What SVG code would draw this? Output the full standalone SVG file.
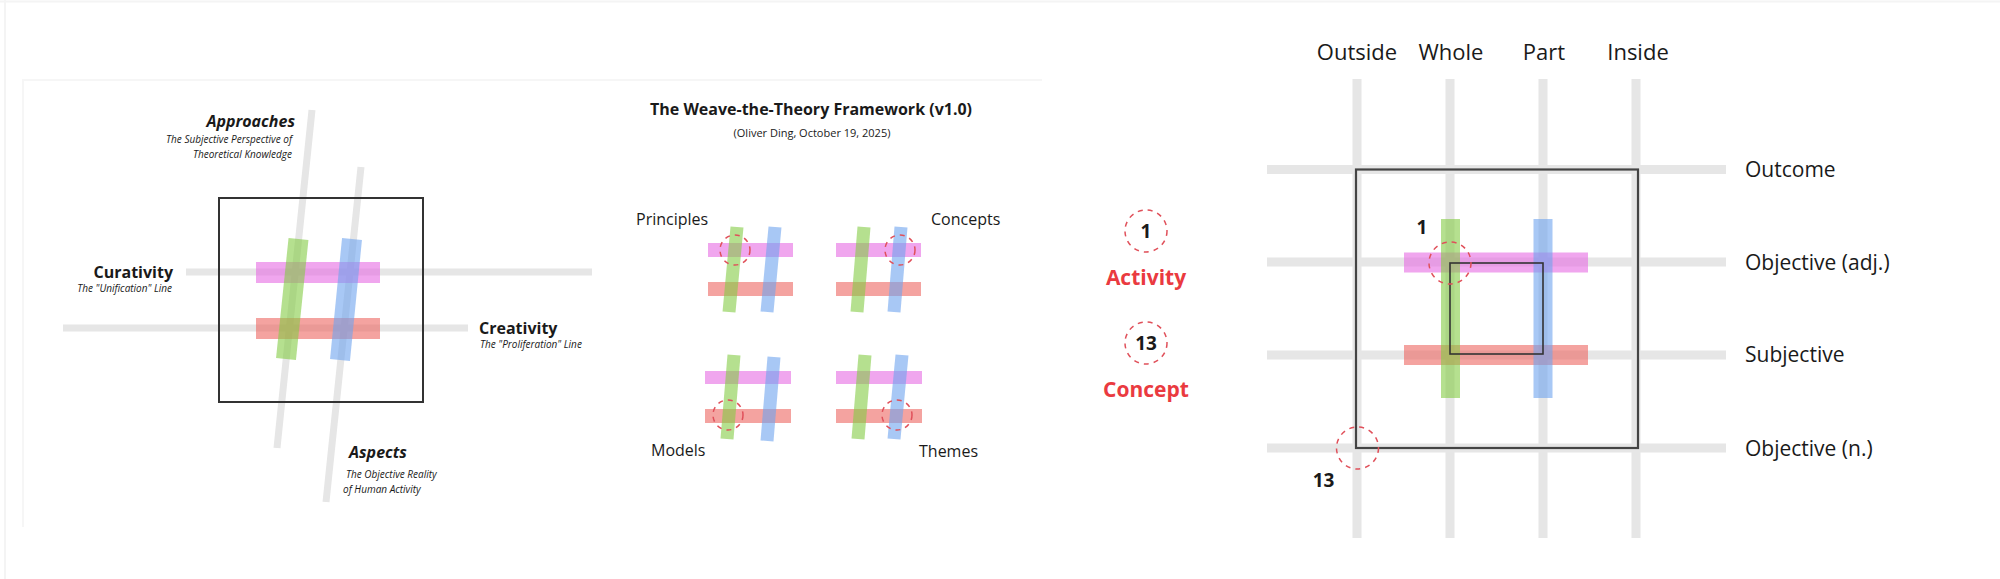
<svg xmlns="http://www.w3.org/2000/svg" width="2000" height="579" viewBox="0 0 2000 579">
<defs>
<style>
text{font-family:"Open Sans","Noto Sans","Liberation Sans",sans-serif;fill:#1a1a1a}
.gl{stroke:#e6e6e6;stroke-linecap:butt;fill:none}
.pk{fill:#e66be3;fill-opacity:0.6}
.rd{fill:#ed6661;fill-opacity:0.6}
.gn{stroke:#84cb44;stroke-opacity:0.6;fill:none}
.bl{stroke:#6ea3ee;stroke-opacity:0.6;fill:none}
.dc{fill:none;stroke:#e0505a;stroke-width:1.5;stroke-dasharray:5 5}
.bi{font-weight:700;font-style:italic}
.it{font-style:italic;font-size:10px}
.b{font-weight:700}
.red{fill:#ea3a40;font-weight:700;font-size:21px}
</style>
</defs>
<rect width="2000" height="579" fill="#ffffff"/>
<path d="M0 1.5H2000M5 0V579" stroke="#f4f4f4" stroke-width="2" fill="none"/>
<path d="M1042 80H23V527" stroke="#f6f6f6" stroke-width="2" fill="none"/>

<g id="left-framework">
  <g id="left-lines">
    <line class="gl" stroke-width="7" x1="312" y1="110" x2="277" y2="448"/>
    <line class="gl" stroke-width="7" x1="361" y1="167" x2="326" y2="502"/>
    <line class="gl" stroke-width="7" x1="186" y1="272" x2="592" y2="272"/>
    <line class="gl" stroke-width="7" x1="63" y1="328" x2="468" y2="328"/>
  </g>
  <rect id="left-square" x="219" y="198" width="204" height="204" fill="none" stroke="#333" stroke-width="2"/>
  <g id="left-hash">
    <rect class="pk" x="256" y="262" width="124" height="21"/>
    <rect class="rd" x="256" y="318" width="124" height="21"/>
    <line class="gn" stroke-width="20" x1="298.5" y1="239" x2="286" y2="359"/>
    <line class="bl" stroke-width="20" x1="352" y1="239" x2="340" y2="360"/>
  </g>
  <g id="approaches">
    <text class="bi" x="295" y="127" font-size="16" text-anchor="end">Approaches</text>
    <text class="it" x="292" y="143" text-anchor="end">The Subjective Perspective of</text>
    <text class="it" x="292" y="158" text-anchor="end">Theoretical Knowledge</text>
  </g>
  <g id="curativity">
    <text class="b" x="173" y="278" font-size="16" text-anchor="end">Curativity</text>
    <text class="it" x="172" y="292" text-anchor="end">The "Unification" Line</text>
  </g>
  <g id="creativity">
    <text class="b" x="479" y="334" font-size="16">Creativity</text>
    <text class="it" x="480" y="348">The "Proliferation" Line</text>
  </g>
  <g id="aspects">
    <text class="bi" x="349" y="458" font-size="16">Aspects</text>
    <text class="it" x="346" y="478">The Objective Reality</text>
    <text class="it" x="343" y="493">of Human Activity</text>
  </g>
</g>

<g id="title">
  <text class="b" x="811" y="115" font-size="16" text-anchor="middle">The Weave-the-Theory Framework (v1.0)</text>
  <text x="812" y="137" font-size="11" text-anchor="middle">(Oliver Ding, October 19, 2025)</text>
</g>

<g id="principles">
  <rect class="pk" x="708" y="243" width="85" height="14"/>
  <rect class="rd" x="708" y="282" width="85" height="14"/>
  <line class="gn" stroke-width="13" x1="737" y1="227" x2="729" y2="312"/>
  <line class="bl" stroke-width="13" x1="775" y1="227" x2="767" y2="312"/>
  <circle class="dc" cx="735" cy="250" r="15"/>
  <text x="636" y="225" font-size="16">Principles</text>
</g>
<g id="concepts">
  <rect class="pk" x="836" y="243" width="85" height="14"/>
  <rect class="rd" x="836" y="282" width="85" height="14"/>
  <line class="gn" stroke-width="13" x1="864" y1="227" x2="857" y2="312"/>
  <line class="bl" stroke-width="13" x1="901" y1="227" x2="894" y2="312"/>
  <circle class="dc" cx="900" cy="250" r="15"/>
  <text x="931" y="225" font-size="16">Concepts</text>
</g>
<g id="models">
  <rect class="pk" x="705" y="371" width="86" height="13"/>
  <rect class="rd" x="705" y="409" width="86" height="14"/>
  <line class="gn" stroke-width="13" x1="734" y1="355" x2="727" y2="439"/>
  <line class="bl" stroke-width="13" x1="774" y1="357" x2="767" y2="441"/>
  <circle class="dc" cx="728" cy="415" r="15"/>
  <text x="651" y="456" font-size="16">Models</text>
</g>
<g id="themes">
  <rect class="pk" x="836" y="371" width="86" height="13"/>
  <rect class="rd" x="836" y="409" width="86" height="14"/>
  <line class="gn" stroke-width="13" x1="865" y1="355" x2="858" y2="439"/>
  <line class="bl" stroke-width="13" x1="902" y1="355" x2="894" y2="439"/>
  <circle class="dc" cx="897" cy="415" r="15"/>
  <text x="919" y="457" font-size="16">Themes</text>
</g>

<g id="legend-activity">
  <circle class="dc" cx="1146" cy="231" r="21"/>
  <text class="b" x="1146" y="238" font-size="19" text-anchor="middle">1</text>
  <text class="red" x="1146" y="285" text-anchor="middle">Activity</text>
</g>
<g id="legend-concept">
  <circle class="dc" cx="1146" cy="343" r="21"/>
  <text class="b" x="1146" y="350" font-size="19" text-anchor="middle">13</text>
  <text class="red" x="1146" y="397" text-anchor="middle">Concept</text>
</g>

<g id="right-framework">
  <g id="right-grid">
    <line class="gl" stroke-width="9" x1="1357" y1="79" x2="1357" y2="538"/>
    <line class="gl" stroke-width="9" x1="1450" y1="79" x2="1450" y2="538"/>
    <line class="gl" stroke-width="9" x1="1543" y1="79" x2="1543" y2="538"/>
    <line class="gl" stroke-width="9" x1="1636" y1="79" x2="1636" y2="538"/>
    <line class="gl" stroke-width="9" x1="1267" y1="169.5" x2="1726" y2="169.5"/>
    <line class="gl" stroke-width="9" x1="1267" y1="262" x2="1726" y2="262"/>
    <line class="gl" stroke-width="9" x1="1267" y1="355" x2="1726" y2="355"/>
    <line class="gl" stroke-width="9" x1="1267" y1="448" x2="1726" y2="448"/>
  </g>
  <rect id="outer-box" x="1356" y="169.5" width="282" height="278.5" fill="none" stroke="#444" stroke-width="2.2"/>
  <g id="right-hash">
    <rect class="pk" x="1404" y="252.5" width="184" height="20"/>
    <rect class="rd" x="1404" y="345" width="184" height="20"/>
    <line class="gn" stroke-width="19" x1="1450.5" y1="219" x2="1450.5" y2="398"/>
    <line class="bl" stroke-width="19" x1="1543" y1="219" x2="1543" y2="398"/>
  </g>
  <rect id="inner-box" x="1450" y="263" width="93" height="91" fill="none" stroke="#333" stroke-width="1.6"/>
  <g id="marker-1">
    <circle class="dc" cx="1450" cy="263" r="21"/>
    <text class="b" x="1422" y="234" font-size="19" text-anchor="middle">1</text>
  </g>
  <g id="marker-13">
    <circle class="dc" cx="1357.5" cy="448" r="21"/>
    <text class="b" x="1323.5" y="487" font-size="19" text-anchor="middle">13</text>
  </g>
  <g id="column-labels">
    <text x="1357" y="60" text-anchor="middle" font-size="22">Outside</text>
    <text x="1451" y="60" text-anchor="middle" font-size="22">Whole</text>
    <text x="1544" y="60" text-anchor="middle" font-size="22">Part</text>
    <text x="1638" y="60" text-anchor="middle" font-size="22">Inside</text>
  </g>
  <g id="row-labels">
    <text x="1745" y="177" font-size="21">Outcome</text>
    <text x="1745" y="270" font-size="21">Objective (adj.)</text>
    <text x="1745" y="362" font-size="21">Subjective</text>
    <text x="1745" y="456" font-size="21">Objective (n.)</text>
  </g>
</g>
<g id="connectors"/>
</svg>
